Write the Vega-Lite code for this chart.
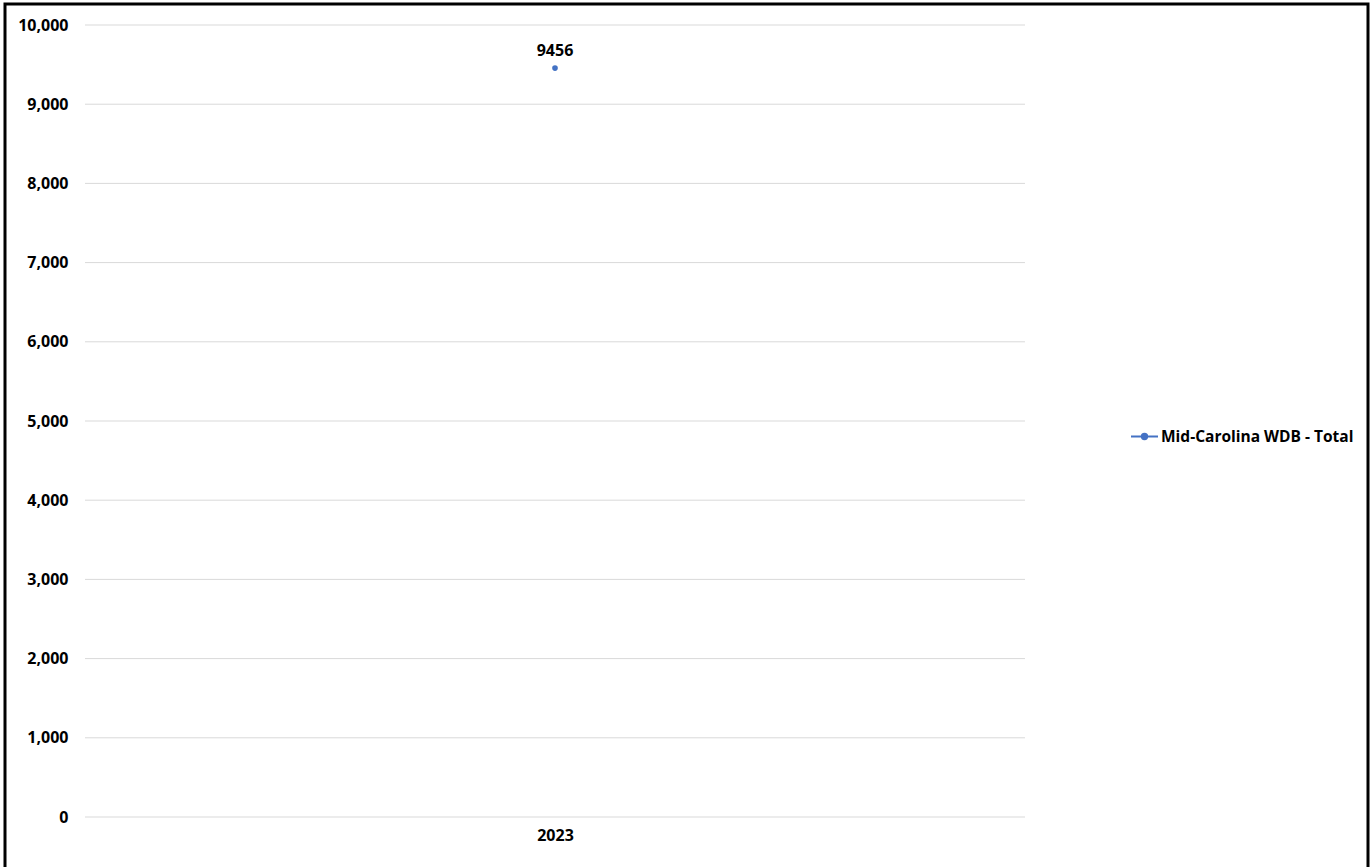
{
  "$schema": "https://vega.github.io/schema/vega-lite/v6.json",
  "width": 1363,
  "height": 870,
  "autosize": {"type": "none"},
  "padding": {"left": 5, "top": 4, "right": 4, "bottom": 0},
  "background": "white",
  "config": {
    "view": {"stroke": "black", "strokeWidth": 3},
    "font": "Open Sans"
  },
  "datasets": {
    "grid": [
      {"value": 0}, {"value": 1000}, {"value": 2000}, {"value": 3000}, {"value": 4000},
      {"value": 5000}, {"value": 6000}, {"value": 7000}, {"value": 8000}, {"value": 9000}, {"value": 10000}
    ],
    "series": [
      {"Year": 2023, "value": 9456, "series": "Mid-Carolina WDB - Total"}
    ]
  },
  "encoding": {
    "y": {
      "field": "value",
      "type": "quantitative",
      "scale": {"domain": [-719.7, 10265.2], "nice": false, "zero": false},
      "axis": {
        "orient": "left",
        "offset": -63,
        "values": [0, 1000, 2000, 3000, 4000, 5000, 6000, 7000, 8000, 9000, 10000],
        "format": ",d",
        "labelFontWeight": "bold",
        "labelFontSize": 16,
        "labelColor": "#000000",
        "labelPadding": 0,
        "domain": false,
        "ticks": false,
        "tickSize": 0,
        "grid": false,
        "title": null
      }
    }
  },
  "layer": [
    {
      "data": {"name": "grid"},
      "mark": {"type": "rule", "color": "#d9d9d9", "strokeWidth": 1},
      "encoding": {
        "x": {"datum": 2022.5, "type": "quantitative"},
        "x2": {"datum": 2023.5}
      }
    },
    {
      "data": {"name": "series"},
      "mark": {"type": "line", "strokeWidth": 2, "point": {"size": 32, "filled": true}},
      "encoding": {
        "x": {
          "field": "Year",
          "type": "quantitative",
          "scale": {"domain": [2022.4149, 2023.8649], "nice": false, "zero": false},
          "axis": {
            "orient": "bottom",
            "offset": -57,
            "values": [2023],
            "format": "d",
            "labelFontWeight": "bold",
            "labelFontSize": 16,
            "labelColor": "#000000",
            "labelPadding": 10,
            "domain": false,
            "ticks": false,
            "tickSize": 0,
            "grid": false,
            "title": null
          }
        },
        "color": {
          "field": "series",
          "type": "nominal",
          "scale": {"range": ["#4472C4"]},
          "legend": {
            "orient": "none",
            "legendX": 1125,
            "legendY": 418,
            "title": null,
            "padding": 0,
            "symbolType": "M-1,0H1M-0.2,0A0.2,0.2 0 1,1 0.2,0A0.2,0.2 0 1,1 -0.2,0",
            "symbolSize": 729,
            "symbolStrokeWidth": 2,
            "symbolFillColor": "#4472C4",
            "symbolStrokeColor": "#4472C4",
            "labelFontSize": 15.5,
            "labelFontWeight": "bold",
            "labelColor": "#000000",
            "labelOffset": 2,
            "labelLimit": 0
          }
        }
      }
    },
    {
      "data": {"name": "series"},
      "mark": {"type": "text", "dy": -17, "fontSize": 16, "fontWeight": "bold", "color": "#000000"},
      "encoding": {
        "x": {"field": "Year", "type": "quantitative"},
        "text": {"field": "value", "type": "quantitative", "format": "d"}
      }
    }
  ]
}
